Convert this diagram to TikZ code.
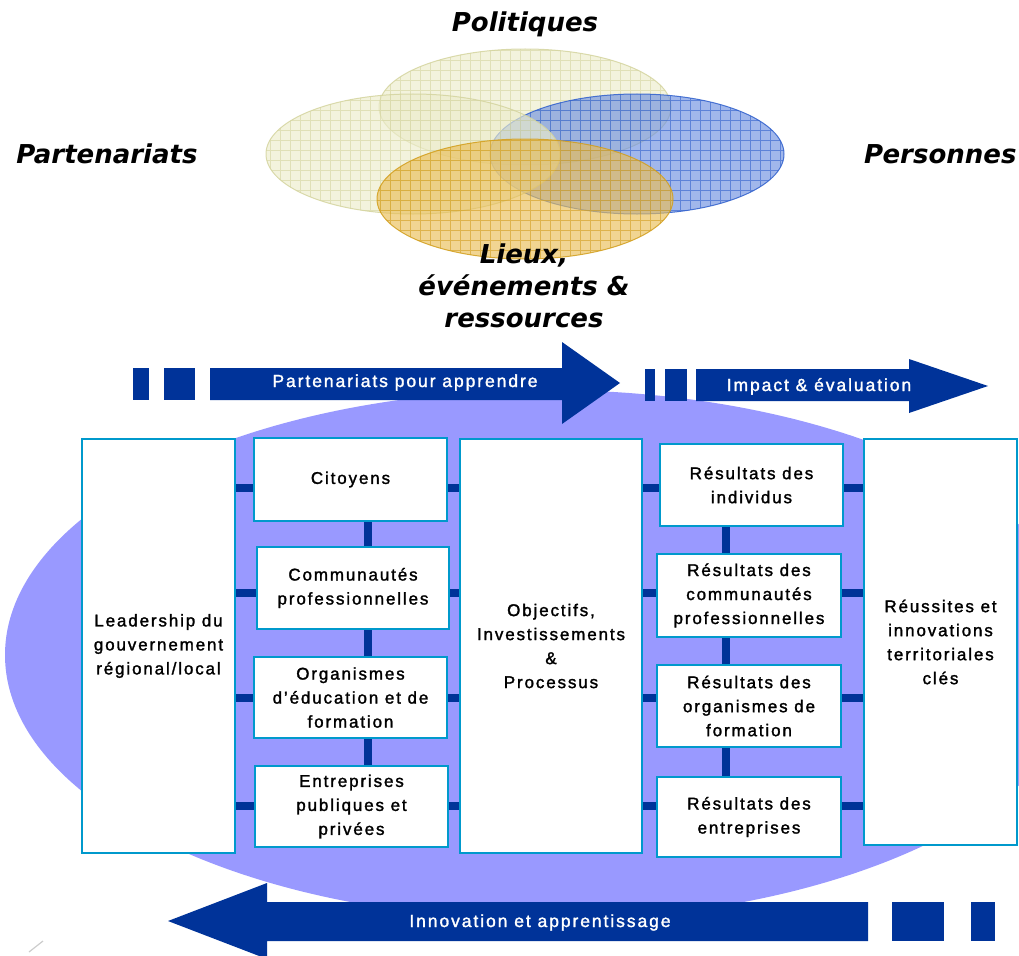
\documentclass[tikz,border=0pt]{standalone}
\usepackage{fontspec}
\setmainfont{Liberation Sans}
\newfontfamily\boxfont[LetterSpace=11,FakeBold=1.6]{Liberation Sans}
\newfontfamily\vennfont{DejaVu Sans}
\definecolor{lav}{HTML}{9999FF}
\definecolor{navy}{HTML}{003399}
\definecolor{boxline}{HTML}{0099CC}
\definecolor{beigefill}{HTML}{ECECCB}
\definecolor{beigeline}{HTML}{D4D49E}
\definecolor{bluefill}{HTML}{6F91E0}
\definecolor{blueline}{HTML}{2F5FCC}
\definecolor{goldfill}{HTML}{E9BE58}
\definecolor{goldline}{HTML}{D29E1C}
\tikzset{
  box/.style={draw=boxline, line width=1.5pt, fill=white, inner sep=0pt, align=center,
    font=\boxfont\fontsize{17}{24}\selectfont, text=black},
  conn/.style={draw=navy, line width=8pt},
  arrowshape/.style={fill=navy, draw=none},
  arrowtext/.style={text=white, inner sep=0pt, font=\boxfont\fontsize{17.5}{21}\selectfont},
  vennlabel/.style={inner sep=0pt, align=center, font=\vennfont\bfseries\itshape\fontsize{26}{32}\selectfont},
  vennset/.style={fill opacity=0.65},
}
\begin{document}
\begin{tikzpicture}[x=1pt,y=-1pt]
\useasboundingbox (0,0) rectangle (1019,955);
\begin{scope}
\clip (0,0) rectangle (1019,955);
% background shape
\fill[lav] (547,655) ellipse [x radius=542, y radius=265];

% Venn sets
\foreach \cx/\cy/\rx/\ry/\fc/\lc in {525/107/146/58/beigefill/beigeline, 637/154/147/60/bluefill/blueline, 413/154/147/60/beigefill/beigeline, 525/199/148/60/goldfill/goldline}{
  \begin{scope}
    \fill[\fc, vennset] (\cx,\cy) ellipse [x radius=\rx, y radius=\ry];
    \clip (\cx,\cy) ellipse [x radius=\rx, y radius=\ry];
    \draw[\lc, line width=0.7pt, opacity=0.6, step=10pt] (\cx-\rx-10,\cy+\ry+10) grid (\cx+\rx+10,\cy-\ry-10);
  \end{scope}
  \draw[\lc, line width=1pt, opacity=0.85] (\cx,\cy) ellipse [x radius=\rx, y radius=\ry];
}

\node[vennlabel, anchor=base] (pol) at (525,32) {Politiques};
\node[vennlabel, anchor=base] (par) at (107,163) {Partenariats};
\node[vennlabel, anchor=base west] (per) at (864,163) {Personnes};
\node[vennlabel] (lieux) at (524,286) {Lieux,\\événements \&\\ressources};

% top arrow 1
\fill[arrowshape] (133,368) rectangle (149,400);
\fill[arrowshape] (164,368) rectangle (195,400);
\fill[arrowshape] (210,368) -- (562,368) -- (562,342) -- (620,383) -- (562,424) -- (562,400) -- (210,400) -- cycle;
\node[arrowtext, anchor=base] (t1) at (405,387) {Partenariats pour apprendre};

% top arrow 2
\fill[arrowshape] (645,369) rectangle (655,401);
\fill[arrowshape] (665,369) rectangle (687,401);
\fill[arrowshape] (696,369) -- (909,369) -- (909,359) -- (988,386) -- (909,413) -- (909,401) -- (696,401) -- cycle;
\node[arrowtext, anchor=base] (t2) at (819,391) {Impact \& évaluation};

% bottom arrow
\fill[arrowshape] (971,902) rectangle (995,941);
\fill[arrowshape] (892,902) rectangle (944,941);
\fill[arrowshape] (868,902) -- (267,902) -- (267,883) -- (168,921) -- (267,959) -- (267,941) -- (868,941) -- cycle;
\node[arrowtext, anchor=base] (t3) at (540,927) {Innovation et apprentissage};

% connector levels
\coordinate (L1) at (0,487.5);
\coordinate (L2) at (0,592.5);
\coordinate (L3) at (0,697.5);
\coordinate (L4) at (0,806);
\coordinate (VL) at (368,0);
\coordinate (VR) at (726,0);

% box frames (named), drawn after connectors
\path
  node[box, minimum width=153pt, minimum height=414pt, draw=none, fill=none] (lead) at (158.5,646) {}
  node[box, minimum width=193pt, minimum height=83pt, draw=none, fill=none] (cit) at (350.5,479.5) {}
  node[box, minimum width=192pt, minimum height=82pt, draw=none, fill=none] (com) at (353,588) {}
  node[box, minimum width=193pt, minimum height=81pt, draw=none, fill=none] (org) at (350.5,697.5) {}
  node[box, minimum width=193pt, minimum height=81pt, draw=none, fill=none] (ent) at (351.5,806.5) {}
  node[box, minimum width=182pt, minimum height=414pt, draw=none, fill=none] (obj) at (551,646) {}
  node[box, minimum width=183pt, minimum height=82pt, draw=none, fill=none] (rind) at (751.5,485) {}
  node[box, minimum width=184pt, minimum height=83pt, draw=none, fill=none] (rcom) at (749,595.5) {}
  node[box, minimum width=184pt, minimum height=82pt, draw=none, fill=none] (rorg) at (749,706) {}
  node[box, minimum width=184pt, minimum height=80pt, draw=none, fill=none] (rent) at (749,817) {}
  node[box, minimum width=153pt, minimum height=406pt, draw=none, fill=none] (reu) at (940.5,642) {};

% connectors
\foreach \b/\l in {cit/L1, com/L2, org/L3, ent/L4}{
  \draw[conn] (lead.east |- \l) -- (\b.west |- \l);
  \draw[conn] (\b.east |- \l) -- (obj.west |- \l);
}
\foreach \b/\l in {rind/L1, rcom/L2, rorg/L3, rent/L4}{
  \draw[conn] (obj.east |- \l) -- (\b.west |- \l);
  \draw[conn] (\b.east |- \l) -- (reu.west |- \l);
}
\foreach \a/\b in {cit/com, com/org, org/ent}{
  \draw[conn] (\a.south -| VL) -- (\b.north -| VL);
}
\foreach \a/\b in {rind/rcom, rcom/rorg, rorg/rent}{
  \draw[conn] (\a.south -| VR) -- (\b.north -| VR);
}

% visible boxes
\node[box, minimum width=153pt, minimum height=414pt] (leadbox) at (lead) {Leadership du\\gouvernement\\régional/local};
\node[box, minimum width=193pt, minimum height=83pt] (citbox) at (cit) {Citoyens};
\node[box, minimum width=192pt, minimum height=82pt] (combox) at (com) {Communautés\\professionnelles};
\node[box, minimum width=193pt, minimum height=81pt] (orgbox) at (org) {Organismes\\d’éducation et de\\formation};
\node[box, minimum width=193pt, minimum height=81pt] (entbox) at (ent) {Entreprises\\publiques et\\privées};
\node[box, minimum width=182pt, minimum height=414pt] (objbox) at (obj) {Objectifs,\\Investissements\\\&\\Processus};
\node[box, minimum width=183pt, minimum height=82pt] (rindbox) at (rind) {Résultats des\\individus};
\node[box, minimum width=184pt, minimum height=83pt] (rcombox) at (rcom) {Résultats des\\communautés\\professionnelles};
\node[box, minimum width=184pt, minimum height=82pt] (rorgbox) at (rorg) {Résultats des\\organismes de\\formation};
\node[box, minimum width=184pt, minimum height=80pt] (rentbox) at (rent) {Résultats des\\entreprises};
\node[box, minimum width=153pt, minimum height=406pt] (reubox) at (reu) {Réussites et\\innovations\\territoriales\\clés};

% small grey mark bottom-left
\draw[gray!40, line width=1.2pt] (29,952) -- (43,941);
\end{scope}
\end{tikzpicture}
\end{document}
